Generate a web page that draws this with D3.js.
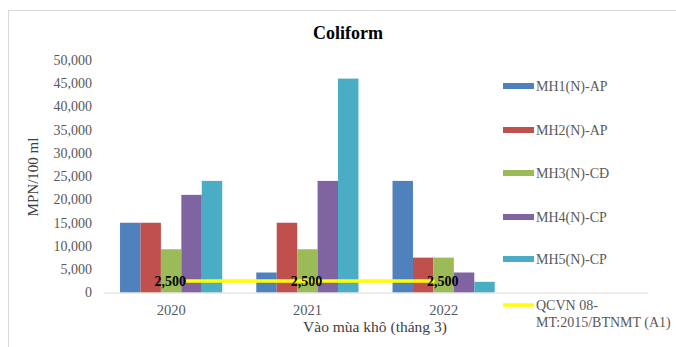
<!DOCTYPE html>
<html>
<head>
<meta charset="utf-8">
<script src="https://cdn.jsdelivr.net/npm/d3@7/dist/d3.min.js"></script>
<style>
  html, body { margin: 0; padding: 0; background: #fff; }
  svg { display: block; }
  text { font-family: "Liberation Serif", "Times New Roman", serif; }
</style>
</head>
<body>
<svg id="chart" width="676" height="347"></svg>
<script>
// Category axis (the trailing blank slot is kept empty, as in the workbook)
const categories = ["2020", "2021", "2022", ""];
const years = ["2020", "2021", "2022"];

// Coliform, MPN/100 ml, dry season (March)
const seriesNames = ["MH1(N)-AP", "MH2(N)-AP", "MH3(N)-CĐ", "MH4(N)-CP", "MH5(N)-CP"];
const mh1 = [15000, 4300, 24000];
const mh2 = [15000, 15000, 7500];
const mh3 = [9300, 9300, 7500];
const mh4 = [21000, 24000, 4300];
const mh5 = [24000, 46000, 2300];
const seriesValues = [mh1, mh2, mh3, mh4, mh5];
const seriesColors = ["#4f81bd", "#c0504d", "#9bbb59", "#8064a2", "#4bacc6"];

// Standard limit QCVN 08-MT:2015/BTNMT (A1)
const limitName = ["QCVN 08-", "MT:2015/BTNMT (A1)"];
const limitValues = [2500, 2500, 2500];
const limitColor = "#ffff00";

const yTicks = [0, 5000, 10000, 15000, 20000, 25000, 30000, 35000, 40000, 45000, 50000];

const svg = d3.select("#chart");
const plot = { left: 103, right: 648, top: 60, bottom: 292.5 };

// outer chart frame
svg.append("rect")
  .attr("x", 8.5).attr("y", 10.5)
  .attr("width", 700).attr("height", 400)
  .attr("fill", "#fff").attr("stroke", "#d9d9d9").attr("stroke-width", 1);

const x = d3.scaleBand().domain(categories).range([plot.left, plot.right]).paddingInner(0).paddingOuter(0);
// five bars fill 75% of each category slot
const xs = d3.scaleBand().domain(seriesNames).range([0, x.bandwidth()]).paddingInner(0).paddingOuter(5 / 6);
const y = d3.scaleLinear().domain([0, 50000]).range([plot.bottom, plot.top]);

// title
svg.append("text")
  .attr("x", 348).attr("y", 39)
  .attr("text-anchor", "middle")
  .attr("font-size", 18).attr("font-weight", "bold").attr("fill", "#000")
  .text("Coliform");

// y axis labels (no axis line)
const yAxis = d3.axisLeft(y).tickValues(yTicks).tickSize(0).tickPadding(0)
  .tickFormat(d3.format(","));
const gy = svg.append("g").attr("transform", `translate(92,0)`).call(yAxis);
gy.select(".domain").remove();
gy.selectAll("text")
  .attr("font-size", 14).attr("fill", "#595959");

// bars
seriesNames.forEach((name, si) => {
  svg.append("g").selectAll("rect")
    .data(years.map((yr, i) => ({ yr, v: seriesValues[si][i] })))
    .join("rect")
    .attr("x", d => x(d.yr) + xs(name))
    .attr("y", d => y(d.v))
    .attr("width", xs.bandwidth())
    .attr("height", d => y(0) - y(d.v))
    .attr("fill", seriesColors[si]);
});

// x axis
const xAxis = d3.axisBottom(x).tickSize(0).tickPadding(0);
const gx = svg.append("g").attr("transform", `translate(0,${plot.bottom})`).call(xAxis);
gx.select(".domain").attr("stroke", "#d9d9d9").attr("stroke-width", 1);
gx.selectAll("text")
  .attr("font-size", 14.5).attr("fill", "#595959")
  .attr("dy", 0).attr("y", 22);

// limit line, its points sit slightly inside the outer category centres
const lineX = d3.scalePoint().domain(years)
  .range([x("2020") + x.bandwidth() / 2 + 15, x("2022") + x.bandwidth() / 2 - 9]);
const line = d3.line().x((d, i) => lineX(years[i])).y(d => y(d));
svg.append("path")
  .datum(limitValues)
  .attr("d", line)
  .attr("fill", "none")
  .attr("stroke", limitColor)
  .attr("stroke-width", 3.5);

// limit data labels
svg.append("g").selectAll("text")
  .data(limitValues)
  .join("text")
  .attr("x", (d, i) => x(years[i]) + x.bandwidth() / 2 - 1)
  .attr("y", d => y(d) + 5)
  .attr("text-anchor", "middle")
  .attr("font-size", 14).attr("font-weight", "bold").attr("fill", "#000")
  .text(d => d3.format(",")(d));

// axis titles
svg.append("text")
  .attr("transform", `translate(38,177) rotate(-90)`)
  .attr("text-anchor", "middle")
  .attr("font-size", 15).attr("fill", "#404040")
  .text("MPN/100 ml");

svg.append("text")
  .attr("x", 375).attr("y", 332)
  .attr("text-anchor", "middle")
  .attr("font-size", 15.5).attr("fill", "#404040")
  .text("Vào mùa khô (tháng 3)");

// legend
const legendRows = [86, 130, 173, 217, 259];
const lg = svg.append("g");
seriesNames.forEach((name, i) => {
  lg.append("rect")
    .attr("x", 503).attr("y", legendRows[i] - 3)
    .attr("width", 31).attr("height", 6)
    .attr("fill", seriesColors[i]);
  lg.append("text")
    .attr("x", 536).attr("y", legendRows[i] + 5)
    .attr("font-size", 14).attr("fill", "#595959")
    .text(name);
});
lg.append("line")
  .attr("x1", 503).attr("x2", 534)
  .attr("y1", 305).attr("y2", 305)
  .attr("stroke", limitColor).attr("stroke-width", 3.5);
limitName.forEach((t, i) => {
  lg.append("text")
    .attr("x", 536).attr("y", 310 + i * 17)
    .attr("font-size", 14).attr("fill", "#595959")
    .text(t);
});
</script>
</body>
</html>
